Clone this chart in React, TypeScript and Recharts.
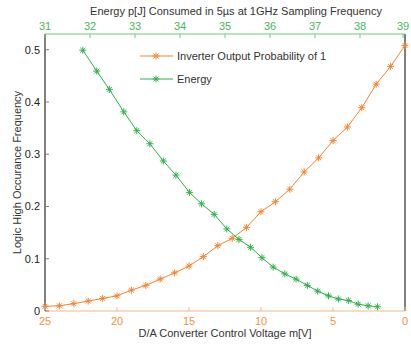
import React from "react";
import {
  LineChart,
  Line,
  XAxis,
  YAxis,
  ReferenceLine,
  Legend,
} from "recharts";

// control voltage m[V] (bottom axis, reversed)
const voltage = [25, 24, 23, 22, 21, 20, 19, 18, 17, 16, 15, 14, 13, 12, 11, 10, 9, 8, 7, 6, 5, 4, 3, 2, 1, 0];
const probability = [
  0.009, 0.01, 0.014, 0.019, 0.024, 0.029, 0.04, 0.049, 0.061, 0.073, 0.086, 0.104, 0.125,
  0.139, 0.16, 0.19, 0.209, 0.233, 0.266, 0.293, 0.326, 0.352, 0.389, 0.434, 0.468, 0.508,
];

// energy p[J] (top axis)
const energy = [
  31.84, 32.15, 32.43, 32.75, 33.04, 33.33, 33.63, 33.91, 34.21, 34.48, 34.76, 35.04, 35.31,
  35.57, 35.82, 36.07, 36.33, 36.58, 36.83, 37.06, 37.3, 37.52, 37.74, 37.96, 38.18, 38.39,
];
const energyFreq = [
  0.499, 0.459, 0.424, 0.381, 0.345, 0.32, 0.287, 0.26, 0.227, 0.205, 0.185, 0.157, 0.137,
  0.122, 0.102, 0.084, 0.071, 0.061, 0.049, 0.038, 0.029, 0.023, 0.02, 0.013, 0.01, 0.008,
];

const voltageTicks = [25, 20, 15, 10, 5, 0];
const energyTicks = [31, 32, 33, 34, 35, 36, 37, 38, 39];
const freqTicks = [0, 0.1, 0.2, 0.3, 0.4, 0.5];

const probData = voltage.map((v, i) => ({ mv: v, prob: probability[i] }));
const energyData = energy.map((e, i) => ({ energy: e, freq: energyFreq[i] }));

const ORANGE = "#f5852f";
const ORANGE_AXIS = "#f8b486";
const ORANGE_TEXT = "#f5913f";
const GREEN = "#2fb24a";
const GREEN_AXIS = "#6fcb7c";
const GREEN_TEXT = "#45b956";
const GRAY = "#7f7f7f";
const FONT = "'Liberation Sans', Arial, sans-serif";
const FS = 11;

const Star = ({ cx, cy, color }: { cx: number; cy: number; color: string }) => {
  const r = 3.5;
  const d = r * 0.7;
  return (
    <g stroke={color} strokeWidth={1}>
      <line x1={cx - r} x2={cx + r} y1={cy} y2={cy} />
      <line x1={cx} x2={cx} y1={cy - r} y2={cy + r} />
      <line x1={cx - d} x2={cx + d} y1={cy - d} y2={cy + d} />
      <line x1={cx - d} x2={cx + d} y1={cy + d} y2={cy - d} />
    </g>
  );
};

const makeDot = (color: string) => (props: any) => {
  const { cx, cy, index } = props;
  if (cx == null || cy == null) return <g key={index} />;
  return <Star key={index} cx={cx} cy={cy} color={color} />;
};

const BOTTOM_M = 6;
const BottomTick = (props: any) => {
  const { x, y, payload } = props;
  return (
    <g>
      <line x1={x} x2={x} y1={y - BOTTOM_M} y2={y - BOTTOM_M - 4} stroke={ORANGE_AXIS} />
      <text x={x} y={y} dy="0.71em" textAnchor="middle" fill={ORANGE_TEXT} fontSize={FS} fontFamily={FONT}>
        {payload.value}
      </text>
    </g>
  );
};

const TOP_M = 4;
const TopTick = (props: any) => {
  const { x, y, payload } = props;
  return (
    <g>
      <line x1={x} x2={x} y1={y + TOP_M} y2={y + TOP_M + 4} stroke={GREEN_AXIS} />
      <text x={x} y={y} textAnchor="middle" fill={GREEN_TEXT} fontSize={FS} fontFamily={FONT}>
        {payload.value}
      </text>
    </g>
  );
};

const LEFT_M = 5;
const LeftTick = (props: any) => {
  const { x, y, payload } = props;
  return (
    <g>
      <line x1={x + LEFT_M} x2={x + LEFT_M + 4} y1={y} y2={y} stroke={GRAY} />
      <text x={x} y={y} dy="0.355em" textAnchor="end" fill="#222" fontSize={FS} fontFamily={FONT}>
        {payload.value}
      </text>
    </g>
  );
};

const LegendBox = () => {
  const items = [
    { label: "Inverter Output Probability of 1", color: ORANGE },
    { label: "Energy", color: GREEN },
  ];
  return (
    <svg width={200} height={46} style={{ display: "block" }}>
      {items.map((it, i) => {
        const y = 5 + i * 23;
        return (
          <g key={it.label}>
            <line x1={0} x2={33} y1={y} y2={y} stroke={it.color} />
            <Star cx={16} cy={y} color={it.color} />
            <text x={37} y={y} dy="0.355em" fill="#333" fontSize={FS} fontFamily={FONT}>
              {it.label}
            </text>
          </g>
        );
      })}
    </svg>
  );
};

export default function App() {
  return (
    <div style={{ position: "fixed", left: 0, top: 0, background: "#fff" }}>
      <LineChart width={411} height={345} margin={{ top: 0, right: 6, bottom: 0, left: 0 }}>
        <XAxis
          xAxisId="bottom"
          dataKey="mv"
          type="number"
          domain={[0, 25]}
          reversed
          ticks={voltageTicks}
          height={34}
          stroke={ORANGE_AXIS}
          tickLine={false}
          tickSize={0}
          tickMargin={BOTTOM_M}
          tick={<BottomTick />}
          label={{
            value: "D/A Converter Control Voltage m[V]",
            position: "insideBottom",
            offset: 8,
            fill: "#333",
            fontSize: FS,
            fontFamily: FONT,
          }}
        />
        <XAxis
          xAxisId="top"
          orientation="top"
          dataKey="energy"
          type="number"
          domain={[31, 39]}
          ticks={energyTicks}
          height={34}
          stroke={GREEN_AXIS}
          tickLine={false}
          tickSize={0}
          tickMargin={TOP_M}
          tick={<TopTick />}
          label={{
            value: "Energy p[J] Consumed in 5\u00b5s at 1GHz Sampling Frequency",
            position: "insideTop",
            offset: 7,
            dx: 11,
            fill: "#333",
            fontSize: FS,
            fontFamily: FONT,
          }}
        />
        <YAxis
          type="number"
          domain={[0, 0.53]}
          ticks={freqTicks}
          width={45}
          stroke={GRAY}
          strokeWidth={2}
          tickLine={false}
          tickSize={0}
          tickMargin={LEFT_M}
          tick={<LeftTick />}
          label={{
            value: "Logic High Occurance Frequency",
            angle: -90,
            position: "insideLeft",
            offset: 17,
            fill: "#333",
            fontSize: FS,
            fontFamily: FONT,
            style: { textAnchor: "middle" },
          }}
        />
        <ReferenceLine xAxisId="bottom" x={0} stroke={GRAY} strokeWidth={2} />
        <Legend
          verticalAlign="middle"
          align="center"
          layout="vertical"
          wrapperStyle={{ left: 140, top: 51, width: 200 }}
          content={() => <LegendBox />}
        />
        <Line
          xAxisId="bottom"
          data={probData}
          dataKey="prob"
          name="Inverter Output Probability of 1"
          stroke={ORANGE}
          strokeWidth={1}
          dot={makeDot(ORANGE)}
          activeDot={false}
          isAnimationActive={false}
        />
        <Line
          xAxisId="top"
          data={energyData}
          dataKey="freq"
          name="Energy"
          stroke={GREEN}
          strokeWidth={1}
          dot={makeDot(GREEN)}
          activeDot={false}
          isAnimationActive={false}
        />
      </LineChart>
    </div>
  );
}
